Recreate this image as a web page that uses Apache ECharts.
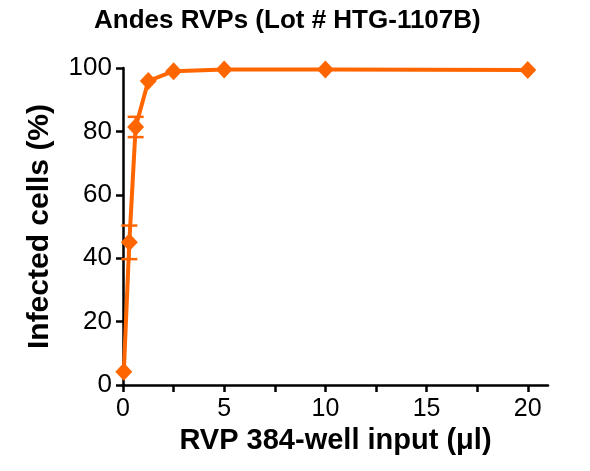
<!DOCTYPE html>
<html>
<head>
<meta charset="utf-8">
<script src="https://cdn.jsdelivr.net/npm/echarts@6/dist/echarts.min.js"></script>
<style>
  html, body { margin: 0; padding: 0; background: #fff; }
  #chart { width: 590px; height: 471px; }
</style>
</head>
<body>
<div id="chart"></div>
<script>
// RVP input volume (µl) and % infected cells, with SD error bars
const inputVolume = [0.04, 0.3125, 0.625, 1.25, 2.5, 5, 10, 20]
const infectedPct = [4.2, 45, 81.4, 95.9, 99, 99.5, 99.5, 99.4]
const infectedSd = [0, 5.3, 3.2, 0, 0, 0, 0, 0]
const xTickValues = [0, 2.5, 5, 7.5, 10, 12.5, 15, 17.5, 20]
const xLabelValues = [0, 5, 10, 15, 20]

const orange = '#ff6600'
const font = 'Liberation Sans, Arial, sans-serif'

const errorData = inputVolume
  .map((x, i) => [x, infectedPct[i] - infectedSd[i], infectedPct[i] + infectedSd[i]])
  .filter((d, i) => infectedSd[i] > 0)

const chart = echarts.init(document.getElementById('chart'))
chart.setOption({
  animation: false,
  backgroundColor: '#fff',
  title: {
    text: 'Andes RVPs (Lot # HTG-1107B)',
    left: 89,
    top: 3,
    textStyle: { fontFamily: font, fontSize: 26, fontWeight: 'bold', color: '#000' }
  },
  grid: { left: 123, right: 42, top: 68, bottom: 86 },
  xAxis: {
    type: 'value',
    min: 0,
    max: 21,
    name: 'RVP 384-well input (\u03bcl)',
    nameLocation: 'middle',
    nameGap: 40,
    nameTextStyle: { fontFamily: font, fontSize: 29, fontWeight: 'bold', color: '#000' },
    axisLine: { show: true, onZero: false, lineStyle: { color: '#000', width: 2.5 } },
    axisTick: { show: true, length: 7, customValues: xTickValues, lineStyle: { color: '#000', width: 2.5 } },
    axisLabel: { customValues: xLabelValues, margin: 12, fontFamily: font, fontSize: 25, color: '#000' },
    splitLine: { show: false }
  },
  yAxis: {
    type: 'value',
    min: 0,
    max: 100,
    interval: 20,
    name: 'Infected cells (%)',
    nameLocation: 'middle',
    nameGap: 68,
    nameTextStyle: { fontFamily: font, fontSize: 30, fontWeight: 'bold', color: '#000' },
    axisLine: { show: true, lineStyle: { color: '#000', width: 2.5 } },
    axisTick: { show: true, length: 7, lineStyle: { color: '#000', width: 2.5 } },
    axisLabel: { margin: 11, fontFamily: font, fontSize: 26, color: '#000' },
    splitLine: { show: false }
  },
  series: [
    {
      type: 'custom',
      clip: false,
      z: 3,
      data: errorData,
      renderItem: (params, api) => {
        const lo = api.coord([api.value(0), api.value(1)])
        const hi = api.coord([api.value(0), api.value(2)])
        const half = 8
        const style = { stroke: orange, lineWidth: 2.5 }
        return {
          type: 'group',
          children: [
            { type: 'line', shape: { x1: lo[0], y1: lo[1], x2: hi[0], y2: hi[1] }, style },
            { type: 'line', shape: { x1: lo[0] - half, y1: lo[1], x2: lo[0] + half, y2: lo[1] }, style },
            { type: 'line', shape: { x1: hi[0] - half, y1: hi[1], x2: hi[0] + half, y2: hi[1] }, style }
          ]
        }
      }
    },
    {
      type: 'line',
      z: 4,
      clip: false,
      data: inputVolume.map((x, i) => [x, infectedPct[i]]),
      symbol: 'diamond',
      symbolSize: [17, 18],
      lineStyle: { color: orange, width: 4 },
      itemStyle: { color: orange }
    }
  ]
})
</script>
</body>
</html>
